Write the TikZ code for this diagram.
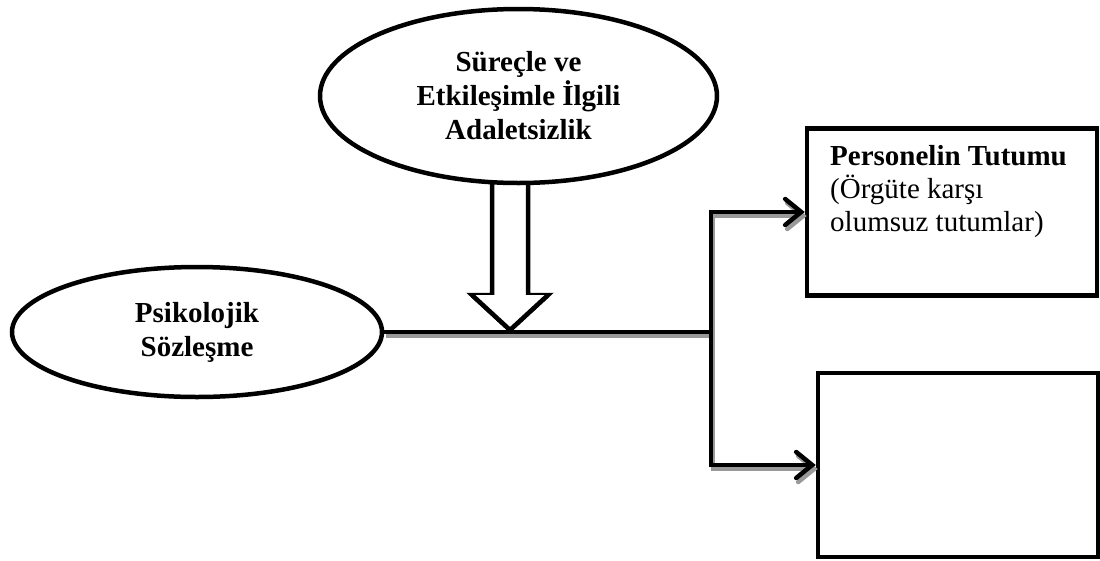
\documentclass[tikz,border=0pt]{standalone}
\usepackage{fontspec}
\setmainfont{Liberation Serif}
\usetikzlibrary{shapes.geometric,arrows.meta,calc}

\begin{document}
\begin{tikzpicture}[x=1pt,y=-1pt,
  oval/.style={ellipse, draw, line width=4.5pt, inner sep=0pt, align=center,
    font=\bfseries\fontsize{29}{34}\selectfont},
  panel/.style={rectangle, draw, line width=4.5pt, inner sep=0pt},
  link/.style={line width=4.5pt, line join=miter},
  linkshade/.style={line width=4.5pt, line join=miter, black!40},
  tip/.style={-{Straight Barb[length=16pt,width=26pt,line cap=round]}},
  hollow/.style={draw, fill=white, line width=4.5pt, line join=miter}]

\useasboundingbox (0,0) rectangle (1100,560);

% hollow block arrow, drawn first so the oval outline stays on top of it
\coordinate (arrowtip) at (510,330);
\draw[hollow] (492,182.5) -- (492,295) -- (472,295) -- (arrowtip)
  -- (548,295) -- (528,295) -- (528,182.5);

% ovals
\node[oval, minimum width=397pt, minimum height=174pt] (proc) at (518.5,96)
  {Süreçle ve\\Etkileşimle İlgili\\Adaletsizlik};
\node[oval, minimum width=370pt, minimum height=130pt] (psy) at (197,332)
  {Psikolojik\\Sözleşme};

% outcome panels
\node[panel, minimum width=290pt, minimum height=167pt] (att) at (952,212) {};
\node[panel, minimum width=280pt, minimum height=184pt] (other) at (958,465) {};
\node[anchor=north west, inner sep=0pt, align=left,
      font=\fontsize{29}{33}\selectfont] (atttext) at (830,145)
  {\textbf{Personelin Tutumu}\\(Örgüte karşı\\olumsuz tutumlar)};

% branching point
\coordinate (junc) at (711,332);

% soft shadows under the connectors
\begin{scope}[transform canvas={shift={(2pt,-4pt)}}]
  \draw[linkshade] (psy.east) -- (junc);
  \draw[linkshade,tip] (junc) |- (att.west);
  \draw[linkshade,tip] (junc) |- (other.west);
\end{scope}

% connectors
\draw[link] (psy.east) -- (junc);
\draw[link,tip] (junc) |- (att.west);
\draw[link,tip] (junc) |- (other.west);

% redraw the block arrow tip over the line it points at
\draw[hollow] (472,295) -- (arrowtip) -- (548,295);
\end{tikzpicture}
\end{document}
